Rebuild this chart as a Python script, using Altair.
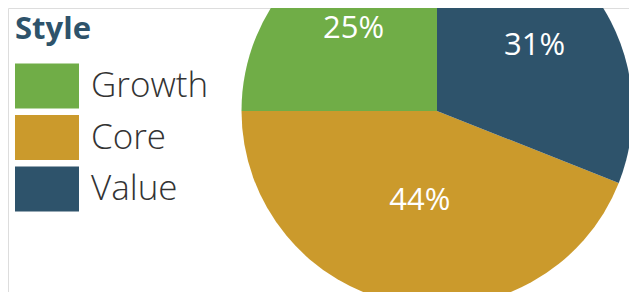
import altair as alt
import pandas as pd

styles = ["Growth", "Core", "Value"]
shares = [25, 44, 31]
slice_order = [3, 2, 1]  # clockwise from 12 o'clock: Value, Core, Growth
colors = ["#70ad47", "#cb9a2c", "#2e536b"]

df = pd.DataFrame({"style": styles, "pct": shares, "ord": slice_order})

CX, CY, R = 429, 103, 195.5

base = alt.Chart(df)

pie = base.mark_arc(radius=R, clip=True, strokeWidth=0).encode(
    theta=alt.Theta("pct:Q", stack=True),
    order=alt.Order("ord:Q"),
    color=alt.Color(
        "style:N",
        scale=alt.Scale(domain=styles, range=colors),
        legend=alt.Legend(
            title="Style",
            orient="none",
            legendX=7,
            legendY=7,
            padding=0,
            symbolType="M-1,-1H1.8444V1H-1Z",
            symbolSize=2025,
            symbolStrokeWidth=0,
            symbolOpacity=1,
            labelFont="Open Sans",
            labelFontSize=35,
            labelFontWeight=300,
            labelColor="#333333",
            labelOffset=31,
            titleFont="Open Sans",
            titleFontSize=31,
            titleFontWeight="bold",
            titleColor="#2e536b",
            titlePadding=17.5,
            rowPadding=6.5,
        ),
    ),
    x=alt.value(CX),
    y=alt.value(CY),
)

lab_base = (
    base.transform_window(cum="sum(pct)", sort=[alt.SortField("ord")], frame=[None, 0])
    .transform_joinaggregate(tot="sum(pct)")
    .transform_calculate(
        mid="(datum.cum - datum.pct/2)/datum.tot*2*PI",
        label="datum.pct + '%'",
    )
)

lab_enc = dict(
    theta=alt.Theta("mid:Q", scale=None),
    text="label:N",
    x=alt.value(CX),
    y=alt.value(CY),
)

labels_small = lab_base.transform_filter("datum.pct < 40").mark_text(
    radius=118, font="Open Sans", fontSize=31, color="white",
    baseline="middle", align="center", dy=1
).encode(**lab_enc)

labels_big = lab_base.transform_filter("datum.pct >= 40").mark_text(
    radius=92, font="Open Sans", fontSize=31, color="white",
    baseline="middle", align="center"
).encode(**lab_enc)

chart = (
    alt.layer(pie, labels_small, labels_big)
    .properties(width=621, height=284, padding=0, autosize=alt.AutoSizeParams(type="none"))
    .configure_view(stroke=None, strokeWidth=0)
    .configure(background="white")
)

chart.save("out.html", embed_options={"renderer": "svg", "actions": False})
